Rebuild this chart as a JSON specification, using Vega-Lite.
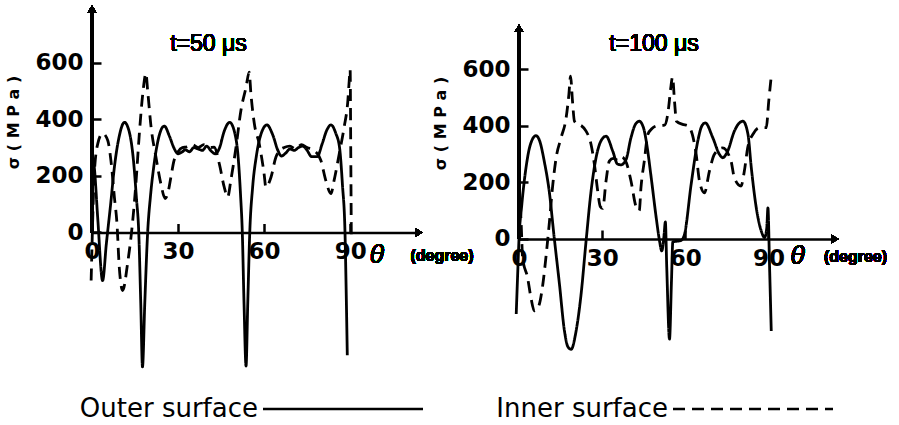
{
  "$schema": "https://vega.github.io/schema/vega-lite/v6.json",
  "background": "white",
  "padding": {"left": 4, "top": 5, "right": 5, "bottom": 5},
  "bounds": "flush",
  "spacing": 100,
  "config": {
    "view": {"stroke": null},
    "axis": {
      "grid": false,
      "domainColor": "black",
      "tickColor": "black",
      "labelColor": "black",
      "titleColor": "black",
      "labelFont": "DejaVu Sans",
      "labelFontWeight": "bold",
      "labelFontSize": 23,
      "tickWidth": 2.5,
      "domainWidth": 2.5
    },
    "legend": {
      "orient": "none",
      "legendX": 238,
      "legendY": 390,
      "padding": 0,
      "direction": "horizontal",
      "symbolType": "M-8,0H8",
      "symbolSize": 400,
      "symbolStrokeWidth": 2.5,
      "symbolStrokeColor": "black",
      "labelFont": "DejaVu Sans",
      "labelFontSize": 26,
      "labelColor": "black",
      "labelAlign": "right",
      "labelOffset": -98,
      "labelLimit": 400,
      "columnPadding": 68
    }
  },
  "datasets": {
    "p50": [
      {"surface": "Outer surface", "theta": 0, "sigma": 280},
      {"surface": "Outer surface", "theta": 0.8, "sigma": 230},
      {"surface": "Outer surface", "theta": 2, "sigma": 50},
      {"surface": "Outer surface", "theta": 3.7, "sigma": -170},
      {"surface": "Outer surface", "theta": 5, "sigma": -40},
      {"surface": "Outer surface", "theta": 6.5, "sigma": 100},
      {"surface": "Outer surface", "theta": 7.8, "sigma": 230},
      {"surface": "Outer surface", "theta": 9.5, "sigma": 340},
      {"surface": "Outer surface", "theta": 11.3, "sigma": 389},
      {"surface": "Outer surface", "theta": 13, "sigma": 355},
      {"surface": "Outer surface", "theta": 14.5, "sigma": 250},
      {"surface": "Outer surface", "theta": 15.5, "sigma": 120},
      {"surface": "Outer surface", "theta": 16.3, "sigma": 0},
      {"surface": "Outer surface", "theta": 17, "sigma": -250},
      {"surface": "Outer surface", "theta": 17.6, "sigma": -475},
      {"surface": "Outer surface", "theta": 18.4, "sigma": -250},
      {"surface": "Outer surface", "theta": 19.4, "sigma": 0},
      {"surface": "Outer surface", "theta": 20.4, "sigma": 130},
      {"surface": "Outer surface", "theta": 21.5, "sigma": 230},
      {"surface": "Outer surface", "theta": 23.5, "sigma": 345},
      {"surface": "Outer surface", "theta": 25.2, "sigma": 376},
      {"surface": "Outer surface", "theta": 27, "sigma": 340},
      {"surface": "Outer surface", "theta": 28.5, "sigma": 300},
      {"surface": "Outer surface", "theta": 30, "sigma": 278},
      {"surface": "Outer surface", "theta": 31.5, "sigma": 285},
      {"surface": "Outer surface", "theta": 32.5, "sigma": 292},
      {"surface": "Outer surface", "theta": 34, "sigma": 285},
      {"surface": "Outer surface", "theta": 35.5, "sigma": 300},
      {"surface": "Outer surface", "theta": 37, "sigma": 295},
      {"surface": "Outer surface", "theta": 38.5, "sigma": 290},
      {"surface": "Outer surface", "theta": 40, "sigma": 305},
      {"surface": "Outer surface", "theta": 41.5, "sigma": 288},
      {"surface": "Outer surface", "theta": 43, "sigma": 278},
      {"surface": "Outer surface", "theta": 44.5, "sigma": 300},
      {"surface": "Outer surface", "theta": 46, "sigma": 355},
      {"surface": "Outer surface", "theta": 48, "sigma": 389},
      {"surface": "Outer surface", "theta": 49.8, "sigma": 350},
      {"surface": "Outer surface", "theta": 51, "sigma": 260},
      {"surface": "Outer surface", "theta": 51.8, "sigma": 130},
      {"surface": "Outer surface", "theta": 52.4, "sigma": 0},
      {"surface": "Outer surface", "theta": 53, "sigma": -250},
      {"surface": "Outer surface", "theta": 53.7, "sigma": -472},
      {"surface": "Outer surface", "theta": 54.3, "sigma": -250},
      {"surface": "Outer surface", "theta": 55, "sigma": 0},
      {"surface": "Outer surface", "theta": 56, "sigma": 160},
      {"surface": "Outer surface", "theta": 57.3, "sigma": 270},
      {"surface": "Outer surface", "theta": 59, "sigma": 350},
      {"surface": "Outer surface", "theta": 61, "sigma": 380},
      {"surface": "Outer surface", "theta": 63, "sigma": 345},
      {"surface": "Outer surface", "theta": 64.8, "sigma": 290},
      {"surface": "Outer surface", "theta": 66, "sigma": 270},
      {"surface": "Outer surface", "theta": 67.5, "sigma": 280},
      {"surface": "Outer surface", "theta": 69, "sigma": 295},
      {"surface": "Outer surface", "theta": 70.5, "sigma": 290},
      {"surface": "Outer surface", "theta": 72, "sigma": 300},
      {"surface": "Outer surface", "theta": 73.5, "sigma": 305},
      {"surface": "Outer surface", "theta": 75, "sigma": 290},
      {"surface": "Outer surface", "theta": 76.5, "sigma": 268},
      {"surface": "Outer surface", "theta": 78.5, "sigma": 268},
      {"surface": "Outer surface", "theta": 80.3, "sigma": 315},
      {"surface": "Outer surface", "theta": 81.8, "sigma": 360},
      {"surface": "Outer surface", "theta": 83.3, "sigma": 380},
      {"surface": "Outer surface", "theta": 85, "sigma": 350},
      {"surface": "Outer surface", "theta": 86.3, "sigma": 300},
      {"surface": "Outer surface", "theta": 87.3, "sigma": 170},
      {"surface": "Outer surface", "theta": 88.2, "sigma": 0},
      {"surface": "Outer surface", "theta": 88.6, "sigma": -200},
      {"surface": "Outer surface", "theta": 89, "sigma": -434},
      {"surface": "Inner surface", "theta": -0.3, "sigma": -170},
      {"surface": "Inner surface", "theta": 0, "sigma": -50},
      {"surface": "Inner surface", "theta": 0.4, "sigma": 100},
      {"surface": "Inner surface", "theta": 0.8, "sigma": 208},
      {"surface": "Inner surface", "theta": 2, "sigma": 313},
      {"surface": "Inner surface", "theta": 3.7, "sigma": 350},
      {"surface": "Inner surface", "theta": 5.5, "sigma": 325},
      {"surface": "Inner surface", "theta": 6.6, "sigma": 254},
      {"surface": "Inner surface", "theta": 7.8, "sigma": 125},
      {"surface": "Inner surface", "theta": 8.7, "sigma": 32},
      {"surface": "Inner surface", "theta": 9.5, "sigma": -122},
      {"surface": "Inner surface", "theta": 10.7, "sigma": -205},
      {"surface": "Inner surface", "theta": 12.4, "sigma": -110},
      {"surface": "Inner surface", "theta": 14.2, "sigma": 42},
      {"surface": "Inner surface", "theta": 15.3, "sigma": 172},
      {"surface": "Inner surface", "theta": 16.5, "sigma": 348},
      {"surface": "Inner surface", "theta": 17.7, "sigma": 490},
      {"surface": "Inner surface", "theta": 18.8, "sigma": 562},
      {"surface": "Inner surface", "theta": 19.4, "sigma": 501},
      {"surface": "Inner surface", "theta": 20.6, "sigma": 372},
      {"surface": "Inner surface", "theta": 22.3, "sigma": 266},
      {"surface": "Inner surface", "theta": 24, "sigma": 172},
      {"surface": "Inner surface", "theta": 25.5, "sigma": 120},
      {"surface": "Inner surface", "theta": 26.4, "sigma": 137},
      {"surface": "Inner surface", "theta": 27.5, "sigma": 195},
      {"surface": "Inner surface", "theta": 28.5, "sigma": 250},
      {"surface": "Inner surface", "theta": 30, "sigma": 285},
      {"surface": "Inner surface", "theta": 31.5, "sigma": 300},
      {"surface": "Inner surface", "theta": 33, "sigma": 302},
      {"surface": "Inner surface", "theta": 35, "sigma": 310},
      {"surface": "Inner surface", "theta": 37, "sigma": 300},
      {"surface": "Inner surface", "theta": 39, "sigma": 310},
      {"surface": "Inner surface", "theta": 41, "sigma": 300},
      {"surface": "Inner surface", "theta": 42.6, "sigma": 301},
      {"surface": "Inner surface", "theta": 44.4, "sigma": 242},
      {"surface": "Inner surface", "theta": 46.1, "sigma": 160},
      {"surface": "Inner surface", "theta": 47.3, "sigma": 125},
      {"surface": "Inner surface", "theta": 48.4, "sigma": 184},
      {"surface": "Inner surface", "theta": 50.2, "sigma": 301},
      {"surface": "Inner surface", "theta": 51.9, "sigma": 430},
      {"surface": "Inner surface", "theta": 53.7, "sigma": 513},
      {"surface": "Inner surface", "theta": 54.8, "sigma": 566},
      {"surface": "Inner surface", "theta": 55.4, "sigma": 490},
      {"surface": "Inner surface", "theta": 56.6, "sigma": 384},
      {"surface": "Inner surface", "theta": 58.3, "sigma": 313},
      {"surface": "Inner surface", "theta": 60, "sigma": 207},
      {"surface": "Inner surface", "theta": 60.6, "sigma": 160},
      {"surface": "Inner surface", "theta": 62.4, "sigma": 195},
      {"surface": "Inner surface", "theta": 64.1, "sigma": 266},
      {"surface": "Inner surface", "theta": 65.5, "sigma": 290},
      {"surface": "Inner surface", "theta": 67, "sigma": 300},
      {"surface": "Inner surface", "theta": 69, "sigma": 305},
      {"surface": "Inner surface", "theta": 71, "sigma": 295},
      {"surface": "Inner surface", "theta": 73, "sigma": 310},
      {"surface": "Inner surface", "theta": 75, "sigma": 300},
      {"surface": "Inner surface", "theta": 77.5, "sigma": 289},
      {"surface": "Inner surface", "theta": 79.8, "sigma": 254},
      {"surface": "Inner surface", "theta": 81.5, "sigma": 184},
      {"surface": "Inner surface", "theta": 83.3, "sigma": 137},
      {"surface": "Inner surface", "theta": 84.4, "sigma": 184},
      {"surface": "Inner surface", "theta": 86.2, "sigma": 278},
      {"surface": "Inner surface", "theta": 87.9, "sigma": 372},
      {"surface": "Inner surface", "theta": 89.2, "sigma": 466},
      {"surface": "Inner surface", "theta": 89.7, "sigma": 540},
      {"surface": "Inner surface", "theta": 90, "sigma": 575},
      {"surface": "Inner surface", "theta": 90.2, "sigma": 300},
      {"surface": "Inner surface", "theta": 90.4, "sigma": -10}
    ],
    "p100": [
      {"surface": "Outer surface", "theta": -1, "sigma": -265},
      {"surface": "Outer surface", "theta": -0.5, "sigma": -130},
      {"surface": "Outer surface", "theta": 0, "sigma": 0},
      {"surface": "Outer surface", "theta": 1, "sigma": 120},
      {"surface": "Outer surface", "theta": 2.5, "sigma": 250},
      {"surface": "Outer surface", "theta": 4, "sigma": 330},
      {"surface": "Outer surface", "theta": 6.1, "sigma": 365},
      {"surface": "Outer surface", "theta": 7.5, "sigma": 345},
      {"surface": "Outer surface", "theta": 9.1, "sigma": 275},
      {"surface": "Outer surface", "theta": 10.9, "sigma": 169},
      {"surface": "Outer surface", "theta": 12.7, "sigma": 5},
      {"surface": "Outer surface", "theta": 14.6, "sigma": -160},
      {"surface": "Outer surface", "theta": 16.4, "sigma": -325},
      {"surface": "Outer surface", "theta": 17.6, "sigma": -380},
      {"surface": "Outer surface", "theta": 18.8, "sigma": -390},
      {"surface": "Outer surface", "theta": 20.6, "sigma": -325},
      {"surface": "Outer surface", "theta": 22.4, "sigma": -195},
      {"surface": "Outer surface", "theta": 24.2, "sigma": -7},
      {"surface": "Outer surface", "theta": 26, "sigma": 169},
      {"surface": "Outer surface", "theta": 27.8, "sigma": 287},
      {"surface": "Outer surface", "theta": 29.5, "sigma": 345},
      {"surface": "Outer surface", "theta": 31.4, "sigma": 363},
      {"surface": "Outer surface", "theta": 33.8, "sigma": 311},
      {"surface": "Outer surface", "theta": 35.5, "sigma": 265},
      {"surface": "Outer surface", "theta": 36.8, "sigma": 262},
      {"surface": "Outer surface", "theta": 38.6, "sigma": 280},
      {"surface": "Outer surface", "theta": 40.4, "sigma": 358},
      {"surface": "Outer surface", "theta": 42, "sigma": 405},
      {"surface": "Outer surface", "theta": 43.4, "sigma": 416},
      {"surface": "Outer surface", "theta": 45, "sigma": 390},
      {"surface": "Outer surface", "theta": 46, "sigma": 340},
      {"surface": "Outer surface", "theta": 47.7, "sigma": 216},
      {"surface": "Outer surface", "theta": 49.5, "sigma": 75},
      {"surface": "Outer surface", "theta": 50.7, "sigma": -7},
      {"surface": "Outer surface", "theta": 51.5, "sigma": -42},
      {"surface": "Outer surface", "theta": 52.3, "sigma": 10},
      {"surface": "Outer surface", "theta": 52.8, "sigma": 60},
      {"surface": "Outer surface", "theta": 53.3, "sigma": -100},
      {"surface": "Outer surface", "theta": 54.3, "sigma": -354},
      {"surface": "Outer surface", "theta": 55, "sigma": -150},
      {"surface": "Outer surface", "theta": 55.5, "sigma": -10},
      {"surface": "Outer surface", "theta": 57, "sigma": -8},
      {"surface": "Outer surface", "theta": 58.5, "sigma": -5},
      {"surface": "Outer surface", "theta": 59.7, "sigma": 16},
      {"surface": "Outer surface", "theta": 62.1, "sigma": 193},
      {"surface": "Outer surface", "theta": 64.5, "sigma": 346},
      {"surface": "Outer surface", "theta": 66, "sigma": 400},
      {"surface": "Outer surface", "theta": 67.2, "sigma": 410},
      {"surface": "Outer surface", "theta": 69.9, "sigma": 358},
      {"surface": "Outer surface", "theta": 72.3, "sigma": 299},
      {"surface": "Outer surface", "theta": 73.5, "sigma": 287},
      {"surface": "Outer surface", "theta": 75.3, "sigma": 311},
      {"surface": "Outer surface", "theta": 77.7, "sigma": 381},
      {"surface": "Outer surface", "theta": 79.5, "sigma": 410},
      {"surface": "Outer surface", "theta": 80.8, "sigma": 416},
      {"surface": "Outer surface", "theta": 82.6, "sigma": 370},
      {"surface": "Outer surface", "theta": 83.8, "sigma": 252},
      {"surface": "Outer surface", "theta": 85.6, "sigma": 110},
      {"surface": "Outer surface", "theta": 87.4, "sigma": 28},
      {"surface": "Outer surface", "theta": 88.6, "sigma": 5},
      {"surface": "Outer surface", "theta": 89.4, "sigma": 40},
      {"surface": "Outer surface", "theta": 89.8, "sigma": 110},
      {"surface": "Outer surface", "theta": 90.4, "sigma": -100},
      {"surface": "Outer surface", "theta": 91, "sigma": -325},
      {"surface": "Inner surface", "theta": -0.2, "sigma": 250},
      {"surface": "Inner surface", "theta": 0.3, "sigma": 150},
      {"surface": "Inner surface", "theta": 0.8, "sigma": 50},
      {"surface": "Inner surface", "theta": 1.3, "sigma": -66},
      {"surface": "Inner surface", "theta": 3.1, "sigma": -137},
      {"surface": "Inner surface", "theta": 4.3, "sigma": -207},
      {"surface": "Inner surface", "theta": 5.5, "sigma": -254},
      {"surface": "Inner surface", "theta": 7, "sigma": -240},
      {"surface": "Inner surface", "theta": 8.6, "sigma": -160},
      {"surface": "Inner surface", "theta": 9.7, "sigma": -66},
      {"surface": "Inner surface", "theta": 10.9, "sigma": 52},
      {"surface": "Inner surface", "theta": 12.2, "sigma": 193},
      {"surface": "Inner surface", "theta": 13.4, "sigma": 287},
      {"surface": "Inner surface", "theta": 15.2, "sigma": 358},
      {"surface": "Inner surface", "theta": 17, "sigma": 428},
      {"surface": "Inner surface", "theta": 18, "sigma": 511},
      {"surface": "Inner surface", "theta": 18.6, "sigma": 575},
      {"surface": "Inner surface", "theta": 19.3, "sigma": 487},
      {"surface": "Inner surface", "theta": 20, "sigma": 416},
      {"surface": "Inner surface", "theta": 21.2, "sigma": 405},
      {"surface": "Inner surface", "theta": 22.5, "sigma": 400},
      {"surface": "Inner surface", "theta": 24.2, "sigma": 381},
      {"surface": "Inner surface", "theta": 26, "sigma": 334},
      {"surface": "Inner surface", "theta": 27.2, "sigma": 264},
      {"surface": "Inner surface", "theta": 28.4, "sigma": 169},
      {"surface": "Inner surface", "theta": 29.3, "sigma": 115},
      {"surface": "Inner surface", "theta": 30.2, "sigma": 108},
      {"surface": "Inner surface", "theta": 31.4, "sigma": 205},
      {"surface": "Inner surface", "theta": 32.6, "sigma": 275},
      {"surface": "Inner surface", "theta": 34, "sigma": 285},
      {"surface": "Inner surface", "theta": 35.6, "sigma": 278},
      {"surface": "Inner surface", "theta": 37, "sigma": 290},
      {"surface": "Inner surface", "theta": 38.7, "sigma": 270},
      {"surface": "Inner surface", "theta": 40.4, "sigma": 205},
      {"surface": "Inner surface", "theta": 42.2, "sigma": 115},
      {"surface": "Inner surface", "theta": 43.4, "sigma": 100},
      {"surface": "Inner surface", "theta": 44, "sigma": 181},
      {"surface": "Inner surface", "theta": 45.2, "sigma": 275},
      {"surface": "Inner surface", "theta": 46.5, "sigma": 370},
      {"surface": "Inner surface", "theta": 48, "sigma": 390},
      {"surface": "Inner surface", "theta": 50, "sigma": 400},
      {"surface": "Inner surface", "theta": 52.5, "sigma": 402},
      {"surface": "Inner surface", "theta": 53.8, "sigma": 450},
      {"surface": "Inner surface", "theta": 54.7, "sigma": 530},
      {"surface": "Inner surface", "theta": 55.4, "sigma": 572},
      {"surface": "Inner surface", "theta": 56.1, "sigma": 487},
      {"surface": "Inner surface", "theta": 56.8, "sigma": 416},
      {"surface": "Inner surface", "theta": 59, "sigma": 405},
      {"surface": "Inner surface", "theta": 61, "sigma": 400},
      {"surface": "Inner surface", "theta": 62.5, "sigma": 370},
      {"surface": "Inner surface", "theta": 63.9, "sigma": 300},
      {"surface": "Inner surface", "theta": 65.1, "sigma": 205},
      {"surface": "Inner surface", "theta": 66.9, "sigma": 163},
      {"surface": "Inner surface", "theta": 68.7, "sigma": 240},
      {"surface": "Inner surface", "theta": 70.5, "sigma": 299},
      {"surface": "Inner surface", "theta": 73.5, "sigma": 322},
      {"surface": "Inner surface", "theta": 76.5, "sigma": 275},
      {"surface": "Inner surface", "theta": 77.7, "sigma": 216},
      {"surface": "Inner surface", "theta": 80.1, "sigma": 187},
      {"surface": "Inner surface", "theta": 81.3, "sigma": 240},
      {"surface": "Inner surface", "theta": 82.5, "sigma": 322},
      {"surface": "Inner surface", "theta": 84.4, "sigma": 370},
      {"surface": "Inner surface", "theta": 86.8, "sigma": 393},
      {"surface": "Inner surface", "theta": 89.2, "sigma": 393},
      {"surface": "Inner surface", "theta": 90.1, "sigma": 487},
      {"surface": "Inner surface", "theta": 91, "sigma": 575}
    ]
  },
  "hconcat": [
    {
      "width": 327,
      "height": 368,
      "data": {"name": "p50"},
      "layer": [
        {
          "mark": {"type": "line", "color": "black", "strokeWidth": 2.8, "interpolate": "monotone"},
          "encoding": {
            "x": {"field": "theta", "type": "quantitative", "scale": {"domain": [0, 114], "nice": false, "zero": false},
                  "axis": {"values": [0, 30, 60, 90], "offset": -141.5, "tickSize": -9, "labelPadding": 17, "labelFlush": false, "title": null}},
            "y": {"field": "sigma", "type": "quantitative", "scale": {"domain": [-500, 800], "nice": false},
                  "axis": {"values": [0, 200, 400, 600], "domain": false, "tickSize": -9, "labelPadding": 18, "title": "σ ( M P a )", "titleX": -71, "titleY": 116, "titleFontSize": 16, "titleFontWeight": "bold", "titleFont": "DejaVu Sans"}},
            "strokeDash": {"field": "surface", "type": "nominal", "title": null, "scale": {"domain": ["Outer surface", "Inner surface"], "range": [[1, 0], [12, 7]]}}
          }
        },
        {
          "mark": {"type": "rule", "color": "black", "strokeWidth": 2.5},
          "encoding": {"x": {"datum": 0}, "y": {"datum": 0}, "y2": {"datum": 790}}
        },
        {
          "mark": {"type": "point", "shape": "triangle-up", "filled": true, "color": "black", "size": 70, "opacity": 1},
          "encoding": {"x": {"datum": 0}, "y": {"datum": 790}}
        },
        {
          "mark": {"type": "point", "shape": "triangle-right", "filled": true, "color": "black", "size": 70, "opacity": 1},
          "encoding": {"x": {"datum": 114}, "y": {"datum": 0}}
        },
        {
          "mark": {"type": "text", "font": "Liberation Sans", "fontSize": 23, "color": "black"},
          "encoding": {"x": {"datum": 40.6}, "y": {"datum": 666}, "text": {"value": "t=50 μs"}}
        },
        {
          "mark": {"type": "text", "font": "DejaVu Sans", "fontSize": 24, "fontStyle": "italic", "color": "black"},
          "encoding": {"x": {"datum": 99.5}, "y": {"datum": -83}, "text": {"value": "θ"}}
        },
        {
          "mark": {"type": "text", "font": "Liberation Sans", "fontSize": 16, "fontWeight": "bold", "align": "left", "color": "black"},
          "encoding": {"x": {"datum": 111}, "y": {"datum": -83}, "text": {"value": "(degree)"}}
        }
      ]
    },
    {
      "width": 316,
      "height": 368,
      "data": {"name": "p100"},
      "layer": [
        {
          "mark": {"type": "line", "color": "black", "strokeWidth": 2.8, "interpolate": "monotone"},
          "encoding": {
            "x": {"field": "theta", "type": "quantitative", "scale": {"domain": [0, 114], "nice": false, "zero": false},
                  "axis": {"values": [0, 30, 60, 90], "offset": -135, "tickSize": -9, "labelPadding": 17, "labelFlush": false, "title": null}},
            "y": {"field": "sigma", "type": "quantitative", "scale": {"domain": [-477, 823], "nice": false},
                  "axis": {"values": [0, 200, 400, 600], "domain": false, "tickSize": -9, "labelPadding": 18, "title": "σ ( M P a )", "titleX": -71, "titleY": 117, "titleFontSize": 16, "titleFontWeight": "bold", "titleFont": "DejaVu Sans"}},
            "strokeDash": {"field": "surface", "type": "nominal", "title": null, "scale": {"domain": ["Outer surface", "Inner surface"], "range": [[1, 0], [12, 7]]}}
          }
        },
        {
          "mark": {"type": "rule", "color": "black", "strokeWidth": 2.5},
          "encoding": {"x": {"datum": 0}, "y": {"datum": 0}, "y2": {"datum": 745}}
        },
        {
          "mark": {"type": "point", "shape": "triangle-up", "filled": true, "color": "black", "size": 70, "opacity": 1},
          "encoding": {"x": {"datum": 0}, "y": {"datum": 745}}
        },
        {
          "mark": {"type": "point", "shape": "triangle-right", "filled": true, "color": "black", "size": 70, "opacity": 1},
          "encoding": {"x": {"datum": 114}, "y": {"datum": 0}}
        },
        {
          "mark": {"type": "text", "font": "Liberation Sans", "fontSize": 23, "color": "black"},
          "encoding": {"x": {"datum": 48.7}, "y": {"datum": 689}, "text": {"value": "t=100 μs"}}
        },
        {
          "mark": {"type": "text", "font": "DejaVu Sans", "fontSize": 24, "fontStyle": "italic", "color": "black"},
          "encoding": {"x": {"datum": 100.7}, "y": {"datum": -64}, "text": {"value": "θ"}}
        },
        {
          "mark": {"type": "text", "font": "Liberation Sans", "fontSize": 16, "fontWeight": "bold", "align": "left", "color": "black"},
          "encoding": {"x": {"datum": 110}, "y": {"datum": -64}, "text": {"value": "(degree)"}}
        }
      ]
    }
  ]
}
